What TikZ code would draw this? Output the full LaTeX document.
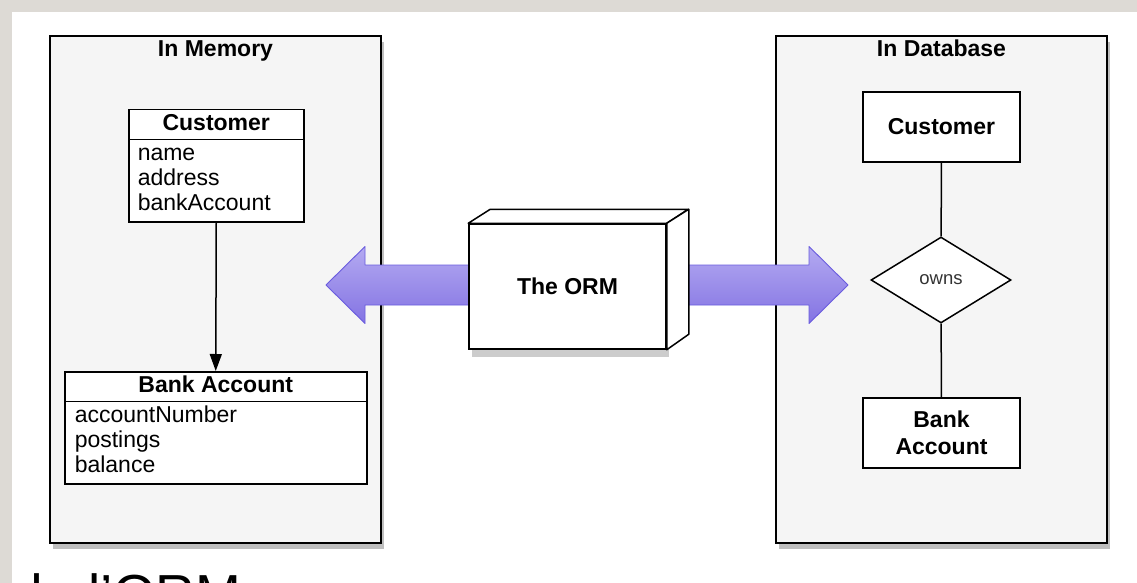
\documentclass[tikz,border=0pt]{standalone}
\usepackage{fontspec}
\setmainfont{Liberation Sans}
\usetikzlibrary{arrows.meta,shapes.geometric,shapes.multipart,shadows}
\definecolor{stripgray}{HTML}{DDDAD5}
\definecolor{panelgray}{HTML}{F5F5F5}
\definecolor{arrowtop}{HTML}{B4AAF1}
\definecolor{arrowbot}{HTML}{8373E3}
\definecolor{arrowline}{HTML}{6A5CDE}
\newcommand{\hdstrut}{\rule[-5pt]{0pt}{22pt}}

\begin{document}
\begin{tikzpicture}[x=1pt,y=-1pt,
	panel/.style={draw=black, line width=1.6pt, fill=panelgray,
		drop shadow={shadow xshift=3pt, shadow yshift=-6pt, fill=black, opacity=0.25}},
	paneltitle/.style={font=\fontsize{23}{25}\selectfont\bfseries, anchor=base},
	classbox/.style={rectangle split, rectangle split parts=2, draw, line width=1.5pt,
		fill=white, inner xsep=9pt, inner ysep=3pt, anchor=north west,
		rectangle split part align={center,left}, align=left,
		font=\fontsize{23}{25}\selectfont},
	entity/.style={draw, line width=1.5pt, fill=white, minimum width=157pt,
		minimum height=70pt, inner sep=0pt, align=center,
		font=\fontsize{23}{27}\selectfont\bfseries},
	relation/.style={diamond, draw, line width=1.5pt, fill=white, aspect=1.63,
		minimum width=140pt, minimum height=86pt, inner sep=0pt,
		font=\fontsize{18.5}{20}\selectfont, text=black!80},
	bigarrow/.style={draw=arrowline, line width=0.9pt, line join=round,
		top color=arrowtop, bottom color=arrowbot},
	link/.style={line width=1.5pt},
	]
	%%%%% START %%%%%
	\clip (0,0) rectangle (1137,583);
	\fill[white] (0,0) rectangle (1137,583);
	
	\node[anchor=base west, inner sep=0pt, font=\fontsize{55}{60}\selectfont] (caption) at (12,613) {de l'ORM};
	\fill[stripgray] (0,0) rectangle (1137,12);
	\fill[stripgray] (0,0) rectangle (12,583);
	
	% the two sides
	\node[panel, minimum width=331pt, minimum height=507pt] (memory) at (215.5,289.5) {};
	\node[panel, minimum width=331pt, minimum height=507pt] (database) at (941.5,289.5) {};
	\node[paneltitle] (memtitle) at (215.5,57) {In Memory};
	\node[paneltitle] (dbtitle) at (941.5,57) {In Database};
	
	% block arrows behind the ORM
	\path[bigarrow] (560,265) -- (365,265) -- (365,246.5) -- (326,285) -- (365,323.5)
		-- (365,305) -- (560,305);
	\path[bigarrow] (580,265) -- (809,265) -- (809,246.5) -- (848,285) -- (809,323.5)
		-- (809,305) -- (580,305);
	
	% objects in memory
	\node[classbox, minimum width=175pt] (customer) at (128,109)
		{\hdstrut\textbf{Customer}
		\nodepart{second}\strut name\\\strut address\\\strut bankAccount};
	\node[classbox, minimum width=302pt, inner xsep=10pt] (account) at (64,371)
		{\hdstrut\textbf{Bank Account}
		\nodepart{second}\strut accountNumber\\\strut postings\\\strut balance};
	\draw[link, -{Triangle[width=12pt,length=17pt]}] (customer.south) -- (account.north);
	
	% tables in the database
	\node[entity] (dbcustomer) at (941.5,127) {Customer};
	\node[relation] (owns) at (941,280) {owns};
	\node[entity] (dbaccount) at (941.5,433) {Bank\\Account};
	\draw[link] (dbcustomer) -- (owns);
	\draw[link] (owns) -- (dbaccount);
	
	% the ORM box
	\node[draw, line width=1.5pt, fill=white, minimum width=197pt, minimum height=125pt,
		font=\fontsize{23}{25}\selectfont\bfseries,
		drop shadow={shadow xshift=3pt, shadow yshift=-8pt, fill=black, opacity=0.2}]
		(orm) at (567.5,286.5) {The ORM};
	\draw[line width=1.5pt, fill=white, line join=round] (orm.north west) -- ++(22,-14)
		-- ++(198,0) -- (orm.north east) -- cycle;
	\draw[line width=1.5pt, fill=white, line join=round] (orm.north east) -- ++(22,-14)
		-- ++(0,125) -- (orm.south east) -- cycle;
	%%%%% END %%%%%
\end{tikzpicture}
\end{document}
